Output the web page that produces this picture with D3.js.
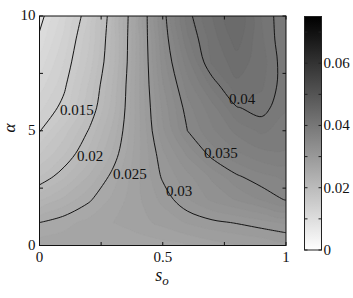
<!DOCTYPE html>
<html><head><meta charset="utf-8">
<script src="https://cdn.jsdelivr.net/npm/d3@7/dist/d3.min.js"></script>
<style>
html,body{margin:0;padding:0;background:#fff;}
</style></head>
<body>
<svg id="chart" width="353" height="298" font-family="'Liberation Serif','DejaVu Serif',serif"></svg>
<script>
// ---- data ----
const sValues = [0,0.1,0.2,0.3,0.4,0.5,0.6,0.7,0.8,0.9,1];
const alphaValues = [0,1,2,3,4,5,6,7,8,9,10];
const zA0  = [0.0265,0.0265,0.0263,0.0262,0.0263,0.0266,0.0270,0.0275,0.0279,0.0282,0.0285];
const zA1  = [0.0250,0.0257,0.0263,0.0270,0.0276,0.0283,0.0291,0.0297,0.0301,0.0306,0.0312];
const zA2  = [0.0218,0.0233,0.0248,0.0263,0.0278,0.0293,0.0309,0.0322,0.0331,0.0341,0.0351];
const zA3  = [0.0190,0.0208,0.0231,0.0255,0.0278,0.0302,0.0317,0.0332,0.0348,0.0357,0.0362];
const zA4  = [0.0169,0.0189,0.0213,0.0243,0.0277,0.0308,0.0332,0.0355,0.0368,0.0377,0.0379];
const zA5  = [0.0149,0.0175,0.0201,0.0234,0.0276,0.0318,0.0350,0.0368,0.0383,0.0392,0.0385];
const zA6  = [0.0137,0.0155,0.0188,0.0226,0.0277,0.0323,0.0356,0.0376,0.0399,0.0405,0.0391];
const zA7  = [0.0125,0.0147,0.0181,0.0222,0.0277,0.0329,0.0365,0.0393,0.0418,0.0412,0.0393];
const zA8  = [0.0114,0.0140,0.0173,0.0217,0.0276,0.0335,0.0376,0.0412,0.0425,0.0415,0.0392];
const zA9  = [0.0103,0.0133,0.0168,0.0215,0.0276,0.0339,0.0388,0.0415,0.0435,0.0412,0.0390];
const zA10 = [0.0094,0.0125,0.0161,0.0213,0.0275,0.0343,0.0395,0.0420,0.0440,0.0410,0.0390];
const lineLevels = [0.01,0.015,0.02,0.025,0.03,0.035,0.04];
const labelText  = ["0.015","0.02","0.025","0.03","0.035","0.04"];
const labelS     = [0.083,0.152,0.298,0.513,0.667,0.769];
const labelAlpha = [5.90,3.90,3.12,2.37,4.03,6.38];
const xTicks = [0,0.25,0.5,0.75,1];
const xTickLabels = ["0","","0.5","","1"];
const yTicks = [0,2.5,5,7.5,10];
const yTickLabels = ["0","","5","","10"];
const cbTicks = [0,0.01,0.02,0.03,0.04,0.05,0.06,0.07];
const cbTickLabels = ["0","","0.02","","0.04","","0.06",""];
const cbMax = 0.075;

// ---- layout ----
const svg = d3.select("#chart");
const X0 = 39.5, X1 = 286, Y0 = 16, Y1 = 245.5;
const x = d3.scaleLinear().domain([0,1]).range([X0,X1]);
const y = d3.scaleLinear().domain([0,10]).range([Y1,Y0]);
const gray = d3.scaleLinear().domain([0,cbMax]).range(["#ffffff","#000000"]).clamp(true);

const rows = [zA0,zA1,zA2,zA3,zA4,zA5,zA6,zA7,zA8,zA9,zA10];
const nx = sValues.length, ny = alphaValues.length;
const grid = rows.flat();
const ds = sValues[1]-sValues[0], da = alphaValues[1]-alphaValues[0];
const gx = c => x(sValues[0] + (c-0.5)*ds);
const gy = r => y(alphaValues[0] + (r-0.5)*da);

svg.append("defs").append("clipPath").attr("id","plotclip")
  .append("rect").attr("x",X0).attr("y",Y0).attr("width",X1-X0).attr("height",Y1-Y0);

const plot = svg.append("g").attr("clip-path","url(#plotclip)");

// filled bands
const step = 0.001;
const fillThr = d3.range(0.0, 0.05+1e-9, step);
const contours = d3.contours().size([nx,ny]).thresholds(fillThr)(grid);
const ringLine = d3.line().x(p=>gx(p[0])).y(p=>gy(p[1])).curve(d3.curveCatmullRomClosed.alpha(0.5));
plot.append("rect").attr("x",X0).attr("y",Y0).attr("width",X1-X0).attr("height",Y1-Y0)
  .attr("fill", gray(d3.min(grid)));
contours.forEach(c=>{
  if (!c.coordinates.length) return;
  let d = "";
  c.coordinates.forEach(poly=>poly.forEach(ring=>{ d += ringLine(ring.slice(0,-1)); }));
  plot.append("path").attr("d",d).attr("fill",gray(c.value+step/2)).attr("stroke",gray(c.value+step/2)).attr("stroke-width",0.3);
});

// contour lines
function splitRing(ring){
  const pts = ring.slice(0,-1);
  const onB = p => p[0]<=0 || p[0]>=nx || p[1]<=0 || p[1]>=ny;
  const idx = pts.findIndex(onB);
  if (idx<0) return [{closed:true, pts}];
  const rot = pts.slice(idx).concat(pts.slice(0,idx));
  const segs=[]; let cur=[];
  rot.forEach(p=>{ if(onB(p)){ if(cur.length>1) segs.push(cur); cur=[]; } else cur.push(p); });
  if (cur.length>1) segs.push(cur);
  return segs.map(s=>({closed:false, pts:s}));
}
const openLine = d3.line().x(p=>gx(p[0])).y(p=>gy(p[1])).curve(d3.curveCatmullRom.alpha(0.5));
const lineContours = d3.contours().size([nx,ny]).thresholds(lineLevels)(grid);
lineContours.forEach(c=>{
  c.coordinates.forEach(poly=>poly.forEach(ring=>{
    splitRing(ring).forEach(seg=>{
      plot.append("path").attr("d", seg.closed ? ringLine(seg.pts) : openLine(seg.pts))
        .attr("fill","none").attr("stroke","#151515").attr("stroke-width",1);
    });
  }));
});

// contour labels
labelText.forEach((t,i)=>{
  svg.append("text").attr("x",x(labelS[i])).attr("y",y(labelAlpha[i]))
    .attr("dominant-baseline","central").attr("font-size",15).attr("fill","#111").text(t);
});

// frame
svg.append("rect").attr("x",X0).attr("y",Y0).attr("width",X1-X0).attr("height",Y1-Y0)
  .attr("fill","none").attr("stroke","#111").attr("stroke-width",1);

// ticks
const tl = 3.5;
xTicks.forEach((v,i)=>{
  svg.append("line").attr("x1",x(v)).attr("x2",x(v)).attr("y1",Y1).attr("y2",Y1-tl).attr("stroke","#111");
  svg.append("line").attr("x1",x(v)).attr("x2",x(v)).attr("y1",Y0).attr("y2",Y0+tl).attr("stroke","#111");
  if (xTickLabels[i]) svg.append("text").attr("x",x(v)).attr("y",Y1+11).attr("text-anchor","middle")
    .attr("dominant-baseline","central").attr("font-size",15).attr("fill","#111").text(xTickLabels[i]);
});
yTicks.forEach((v,i)=>{
  svg.append("line").attr("x1",X0).attr("x2",X0+tl).attr("y1",y(v)).attr("y2",y(v)).attr("stroke","#111");
  svg.append("line").attr("x1",X1).attr("x2",X1-tl).attr("y1",y(v)).attr("y2",y(v)).attr("stroke","#111");
  if (yTickLabels[i]) svg.append("text").attr("x",X0-4).attr("y",y(v)-1).attr("text-anchor","end")
    .attr("dominant-baseline","central").attr("font-size",15).attr("fill","#111").text(yTickLabels[i]);
});

// axis labels
const xl = svg.append("text").attr("x",162).attr("y",281).attr("text-anchor","middle")
  .attr("font-size",18).attr("font-style","italic").attr("fill","#111");
xl.append("tspan").text("s");
xl.append("tspan").attr("font-size",13).attr("dy",4).text("o");
svg.append("text").attr("transform","translate(15,128) rotate(-90)").attr("text-anchor","middle")
  .attr("font-size",17).attr("font-style","italic").attr("fill","#111").text("α");

// colorbar
const CX0 = 304.5, CX1 = 321.5;
const cb = d3.scaleLinear().domain([0,cbMax]).range([250,16.5]);
const grad = svg.select("defs").append("linearGradient").attr("id","cbgrad")
  .attr("x1",0).attr("y1",1).attr("x2",0).attr("y2",0);
d3.range(0,1.0001,0.1).forEach(f=>{
  grad.append("stop").attr("offset",f).attr("stop-color",gray(f*cbMax));
});
svg.append("rect").attr("x",CX0).attr("y",cb(cbMax)).attr("width",CX1-CX0).attr("height",cb(0)-cb(cbMax))
  .attr("fill","url(#cbgrad)").attr("stroke","#222").attr("stroke-width",1);
cbTicks.forEach((v,i)=>{
  svg.append("line").attr("x1",CX0).attr("x2",CX0+3).attr("y1",cb(v)).attr("y2",cb(v)).attr("stroke","#222");
  svg.append("line").attr("x1",CX1).attr("x2",CX1-3).attr("y1",cb(v)).attr("y2",cb(v)).attr("stroke","#222");
  if (cbTickLabels[i]) svg.append("text").attr("x",CX1+2).attr("y",cb(v)).attr("dominant-baseline","central")
    .attr("font-size",15).attr("fill","#111").text(cbTickLabels[i]);
});
</script>
</body></html>
